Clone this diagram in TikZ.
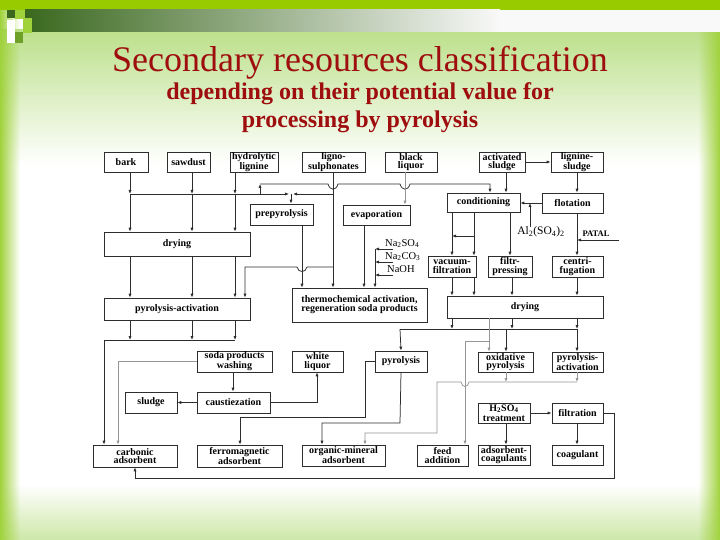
\documentclass[tikz,border=0pt]{standalone}
\usepackage{fontspec}
\setmainfont{Liberation Serif}
\usetikzlibrary{arrows.meta,fadings}
\definecolor{titlered}{RGB}{158,14,14}
\definecolor{bggreen}{RGB}{160,210,60}
\definecolor{topgreen}{RGB}{153,204,0}
\definecolor{lightgreen}{RGB}{188,224,138}
\definecolor{darkgreen}{RGB}{58,104,30}
\definecolor{midgreen}{RGB}{110,160,40}
\definecolor{lnk}{RGB}{45,45,45}
\definecolor{lnkgray}{RGB}{150,150,150}
\begin{document}
\begin{tikzpicture}[x=1pt,y=-1pt,
  box/.style={draw=lnk, line width=0.7pt, fill=white, inner sep=0pt, align=center,
              font=\bfseries\fontsize{10}{8.5}\selectfont},
  ln/.style={draw=lnk, line width=0.75pt},
  arr/.style={ln, -{Latex[length=4pt,width=3.2pt]}},
  garr/.style={arr, draw=lnkgray},
  gln/.style={ln, draw=lnkgray},
  chem/.style={inner sep=0pt, font=\fontsize{10.5}{10}\selectfont}
]
\useasboundingbox (0,0) rectangle (720,540);
% ---------- background ----------
\fill[white] (0,0) rectangle (720,540);
\shade[top color=lightgreen, bottom color=white] (0,30) rectangle (720,165);
\shade[top color=white, bottom color=lightgreen!75] (0,485) rectangle (720,540);
\fill[bggreen, path fading=east] (0,0) rectangle (20,540);
\fill[bggreen, path fading=west] (698,0) rectangle (720,540);
\fill[topgreen] (0,0) rectangle (720,10);
\shade[left color=darkgreen, right color=white!95!gray] (25,10) rectangle (500,32);
\fill[white!95!gray] (500,10) rectangle (720,32);
\fill[darkgreen] (7,10) rectangle (15,18);
\fill[bggreen] (15,10) rectangle (25,19);
\fill[bggreen] (23,18) rectangle (32,33);
\fill[white] (7,20) rectangle (15,43);
\fill[midgreen] (15,32) rectangle (23,43);
% ---------- titles ----------
\node[anchor=base, text=titlered, inner sep=0pt, font=\fontsize{36}{36}\selectfont] (title) at (360,72) {Secondary resources classification};
\node[anchor=base, text=titlered, inner sep=0pt, font=\bfseries\fontsize{24}{24}\selectfont] (sub1) at (360,100) {depending on their potential value for};
\node[anchor=base, text=titlered, inner sep=0pt, font=\bfseries\fontsize{24}{24}\selectfont] (sub2) at (360,128) {processing by pyrolysis};
% ---------- column coordinates ----------
\foreach \c in {104,118,130,135,192,233,235,240,245,260,291,302,317,322,333,364,365,375,400,405,437,452,465,474,489,490,506,510,512,530,577,614}
  {\coordinate (k\c) at (\c,0);}
% ---------- boxes ----------
\node[box,minimum width=44pt,minimum height=20pt] (bark) at (126,162) {bark};
\node[box,minimum width=43pt,minimum height=20pt] (saw) at (188.5,162) {sawdust};
\node[box,minimum width=48pt,minimum height=20pt] (hyd) at (254,162) {hydrolytic\\lignine};
\node[box,minimum width=63pt,minimum height=20pt] (lig) at (333.5,162) {ligno-\\sulphonates};
\node[box,minimum width=52pt,minimum height=20pt] (blk) at (411,162) {black\\liquor};
\node[box,minimum width=46pt,minimum height=20pt] (act) at (502,162) {activated\\sludge};
\node[box,minimum width=52pt,minimum height=20pt] (lsl) at (577,162) {lignine-\\sludge};
\node[box,minimum width=63pt,minimum height=21pt] (prep) at (281.5,214.5) {prepyrolysis};
\node[box,minimum width=67pt,minimum height=20pt] (evap) at (376.5,215) {evaporation};
\node[box,minimum width=73pt,minimum height=19pt] (cond) at (483.5,202.5) {conditioning};
\node[box,minimum width=61pt,minimum height=20pt] (flot) at (572.5,203) {flotation};
\node[box,minimum width=146pt,minimum height=24pt] (dry1) at (177,244) {drying};
\node[box,minimum width=48pt,minimum height=21pt] (vac) at (452,266.5) {vacuum-\\filtration};
\node[box,minimum width=44pt,minimum height=21pt] (fil) at (510,266.5) {filtr-\\pressing};
\node[box,minimum width=51pt,minimum height=21pt] (cen) at (577.5,266.5) {centri-\\fugation};
\node[box,minimum width=146pt,minimum height=22pt] (pa1) at (177,309) {pyrolysis-activation};
\node[box,minimum width=135pt,minimum height=34pt,font=\bfseries\fontsize{10}{9}\selectfont] (thermo) at (359.5,305) {thermochemical activation,\\regeneration soda products};
\node[box,minimum width=156pt,minimum height=22pt] (dry2) at (525,307) {drying};
\node[box,minimum width=75pt,minimum height=21pt] (wash) at (234.5,361.5) {soda products\\washing};
\node[box,minimum width=51pt,minimum height=21pt] (white) at (317.5,361.5) {white\\liquor};
\node[box,minimum width=52pt,minimum height=21pt] (pyr) at (401,361.5) {pyrolysis};
\node[box,minimum width=55pt,minimum height=20pt] (oxi) at (505.5,362) {oxidative\\pyrolysis};
\node[box,minimum width=51pt,minimum height=20pt] (pa2) at (577.5,362) {pyrolysis-\\activation};
\node[box,minimum width=52pt,minimum height=21pt] (sludge) at (151,402.5) {sludge};
\node[box,minimum width=73pt,minimum height=21pt] (caus) at (233.5,402.5) {caustiezation};
\node[box,minimum width=52pt,minimum height=20pt,font=\bfseries\fontsize{10}{10.5}\selectfont] (h2) at (504,413) {H\textsubscript{2}SO\textsubscript{4}\\treatment};
\node[box,minimum width=51pt,minimum height=20pt] (filt) at (577.5,413) {filtration};
\node[box,minimum width=84pt,minimum height=22pt] (carb) at (135,456) {carbonic\\adsorbent};
\node[box,minimum width=85pt,minimum height=22pt] (ferro) at (239.5,456) {ferromagnetic\\adsorbent};
\node[box,minimum width=83pt,minimum height=21pt] (org) at (343.5,455.5) {organic-mineral\\adsorbent};
\node[box,minimum width=51pt,minimum height=21pt] (feed) at (442.5,455.5) {feed\\addition};
\node[box,minimum width=52pt,minimum height=20pt] (adc) at (504,455) {adsorbent-\\coagulants};
\node[box,minimum width=51pt,minimum height=20pt] (coag) at (577.5,455) {coagulant};
% ---------- labels ----------
\node[chem, anchor=base west] (na1) at (385,246) {Na\textsubscript{2}SO\textsubscript{4}};
\node[chem, anchor=base west] (na2) at (385,259) {Na\textsubscript{2}CO\textsubscript{3}};
\node[chem, anchor=base west] (na3) at (387,272) {NaOH};
\node[chem, font=\fontsize{11.5}{11}\selectfont] (al) at (541,232) {Al\textsubscript{2}(SO\textsubscript{4})\textsubscript{2}};
\node[inner sep=0pt, font=\bfseries\fontsize{8.5}{8}\selectfont] (patal) at (596,234) {PATAL};
% ---------- junction coordinates ----------
\coordinate (j1) at (130,194);
\coordinate (j2) at (192,194);
\coordinate (j3) at (235,194);
\coordinate (j4) at (291,194);
\coordinate (j4a) at (289,194);
\coordinate (j4b) at (293,194);
\coordinate (j5) at (333,194);
\coordinate (j6) at (260,194);
\coordinate (j7) at (260,184);
\coordinate (j8) at (490,184);
\coordinate (j9) at (333,267);
\coordinate (j10) at (245,267);
\coordinate (nv) at (375,249);
\coordinate (na1e) at (393,249);
\coordinate (na2e) at (393,262);
\coordinate (na3e) at (393,275);
\coordinate (ca) at (474,236);
\coordinate (pat0) at (619,240);
\coordinate (h1) at (400,329);
\coordinate (h2r) at (577,329);
\coordinate (g1) at (489,341);
\coordinate (g2) at (465,341);
\coordinate (r1) at (577,382);
\coordinate (r2) at (437,382);
\coordinate (r3) at (437,433);
\coordinate (r4) at (365,433);
\coordinate (p1) at (400,423);
\coordinate (p2) at (322,423);
\coordinate (q1) at (365,417);
\coordinate (q2) at (240,417);
\coordinate (s1) at (104,340);
\coordinate (s2) at (235,340);
\coordinate (f1) at (614,478);
\coordinate (f2) at (135,478);
% ---------- connectors: top part ----------
\draw[arr] (k130 |- bark.south) -- (j1);
\draw[arr] (j1) -- (k130 |- dry1.north);
\draw[arr] (k192 |- saw.south) -- (j2);
\draw[arr] (j2) -- (k192 |- dry1.north);
\draw[arr] (k235 |- hyd.south) -- (j3);
\draw[arr] (j3) -- (k235 |- dry1.north);
\draw[arr] (j1) -- (j4a);
\draw[arr] (j5) -- (j4b);
\draw[arr] (j4) -- (k291 |- prep.north);
\draw[arr] (k333 |- lig.south) -- (k333 |- thermo.north);
\draw[arr] (j6) -- (j7);
\draw[arr] (j7) -- (328,184) .. controls (330,191) and (336,191) .. (338,184) -- (400,184)
   .. controls (402,191) and (408,191) .. (410,184) -- (j8) -- (k490 |- cond.north);
\draw[garr] (k405 |- blk.south) -- (k405 |- evap.north);
\draw[arr] (k506 |- act.south) -- (k506 |- cond.north);
\draw[arr] (act.east) -- (lsl.west);
\draw[arr] (k577 |- lsl.south) -- (k577 |- flot.north);
\draw[arr] (flot.west) -- (cond.east |- flot.west);
\draw[arr] (k530 |- al.north) -- (k530 |- flot.west);
\draw[arr] (k577 |- flot.south) -- (k577 |- cen.north);
\draw[arr] (pat0) -- (k577 |- pat0);
% ligno branch to pyrolysis-activation
\draw[arr] (j9) -- (307,267) .. controls (306,273) and (298,273) .. (297,267) -- (j10) -- (k245 |- pa1.north);
\draw[arr] (k302 |- prep.south) -- (k302 |- thermo.north);
\draw[arr] (k364 |- evap.south) -- (k364 |- thermo.north);
\draw[arr] (nv) -- (k375 |- thermo.north);
\draw[arr] (na1e) -- (nv);
\draw[arr] (na2e) -- (k375 |- na2e);
\draw[arr] (na3e) -- (k375 |- na3e);
% conditioning group
\draw[arr] (k452 |- cond.south) -- (k452 |- vac.north);
\draw[arr] (k474 |- cond.south) -- (k474 |- vac.north);
\draw[arr] (ca) -- (k452 |- ca);
\draw[arr] (k510 |- cond.south) -- (k510 |- fil.north);
\draw[arr] (k452 |- vac.south) -- (k452 |- dry2.north);
\draw[arr] (k474 |- vac.south) -- (k474 |- dry2.north);
\draw[arr] (k512 |- fil.south) -- (k512 |- dry2.north);
\draw[arr] (k577 |- cen.south) -- (k577 |- dry2.north);
% drying (right) outputs
\draw[arr] (k452 |- dry2.south) -- (k452 |- h1);
\draw[arr] (k512 |- dry2.south) -- (k512 |- h1);
\draw[arr] (k577 |- dry2.south) -- (h2r);
\draw[ln] (h1) -- (h2r);
\draw[arr] (h1) -- (pyr.north);
\draw[arr] (k506 |- h1) -- (k506 |- oxi.north);
\draw[arr] (h2r) -- (k577 |- pa2.north);
\draw[garr] (k489 |- dry2.south) -- (k489 |- oxi.north);
\draw[garr] (g1) -- (g2) -- (k465 |- feed.north);
\draw[garr] (k506 |- oxi.south) -- (k506 |- r1);
\draw[garr] (k577 |- pa2.south) -- (r1);
\draw[garr] (r1) -- (469,382) .. controls (468,388) and (462,388) .. (461,382) -- (r2) -- (r3) -- (r4) -- (k365 |- org.north);
% pyrolysis outputs
\draw[arr] (pyr.south) -- (p1) -- (p2) -- (k322 |- org.north);
\draw[arr] (pyr.west) -- (k365 |- pyr.west) -- (q1) -- (q2) -- (k240 |- ferro.north);
% left part
\draw[arr] (k130 |- dry1.south) -- (k130 |- pa1.north);
\draw[arr] (k192 |- dry1.south) -- (k192 |- pa1.north);
\draw[arr] (k235 |- dry1.south) -- (k235 |- pa1.north);
\draw[arr] (k130 |- pa1.south) -- (k130 |- s1);
\draw[arr] (k192 |- pa1.south) -- (k192 |- s1);
\draw[arr] (k235 |- pa1.south) -- (s2);
\draw[ln] (s1) -- (s2);
\draw[arr] (s1) -- (k104 |- carb.north);
\draw[garr] (wash.west) -- (k118 |- wash.west) -- (k118 |- carb.north);
\draw[arr] (k233 |- wash.south) -- (k233 |- caus.north);
\draw[arr] (caus.west) -- (sludge.east);
\draw[arr] (caus.east) -- (k317 |- caus.east) -- (k317 |- white.south);
% right lower part
\draw[arr] (h2.east) -- (filt.west);
\draw[arr] (k506 |- h2.south) -- (k506 |- adc.north);
\draw[arr] (k577 |- filt.south) -- (k577 |- coag.north);
\draw[arr] (filt.east) -- (k614 |- filt.east) -- (f1) -- (f2) -- (carb.south);
\end{tikzpicture}
\end{document}
